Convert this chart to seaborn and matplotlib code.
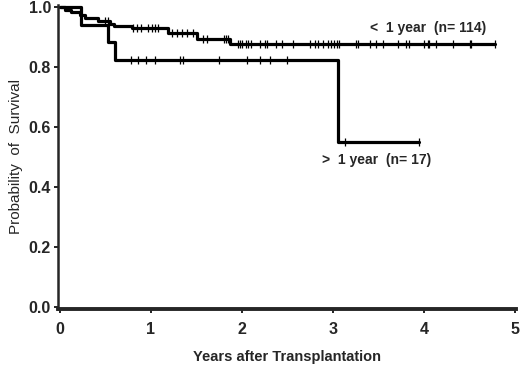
import numpy as np
import pandas as pd
import seaborn as sns
import matplotlib.pyplot as plt

# Kaplan-Meier steps (years, survival)
early_times = [0, 0.06, 0.12, 0.22, 0.28, 0.42, 0.55, 0.60, 0.79, 1.19, 1.51, 1.87]
early_surv = [1.0, 0.991, 0.982, 0.974, 0.963, 0.952, 0.945, 0.938, 0.929, 0.914, 0.893, 0.877]
early_end = 4.78
early_censor = [0.50, 0.53, 0.80, 0.85, 0.89, 0.97, 1.01, 1.05, 1.08, 1.23, 1.29,
                1.34, 1.40, 1.46, 1.57, 1.62, 1.80, 1.82, 1.85, 1.96, 1.98, 2.00,
                2.04, 2.07, 2.10, 2.20, 2.25, 2.27, 2.37, 2.44, 2.56, 2.75, 2.80,
                2.84, 2.89, 2.94, 2.98, 3.01, 3.04, 3.07, 3.25, 3.27, 3.41, 3.47,
                3.55, 3.71, 3.80, 3.84, 4.00, 4.04, 4.06, 4.13, 4.32, 4.50, 4.52,
                4.78]

late_times = [0, 0.23, 0.53, 0.61, 3.05]
late_surv = [1.0, 0.941, 0.882, 0.823, 0.549]
late_end = 3.95
late_censor = [0.78, 0.86, 0.95, 1.05, 1.32, 1.35, 1.75, 2.06, 2.20, 2.31, 2.50,
               3.13, 3.95]

label_early = '<  1 year  (n= 114)'
label_late = '>  1 year  (n= 17)'


def step_frame(times, surv, end):
    return pd.DataFrame({'t': list(times) + [end], 's': list(surv) + [surv[-1]]})


def censor_frame(times, surv, cens):
    idx = np.searchsorted(times, cens, side='right') - 1
    return pd.DataFrame({'t': cens, 's': np.array(surv)[idx]})


sns.set_style('ticks')
plt.rcParams['font.family'] = ['Liberation Sans', 'DejaVu Sans']

fig = plt.figure(figsize=(5.2, 3.7), dpi=100)
ax = fig.add_axes([58 / 520, 1 - 309 / 370, 458 / 520, 304 / 370])

for times, surv, end, cens in [(early_times, early_surv, early_end, early_censor),
                               (late_times, late_surv, late_end, late_censor)]:
    sns.lineplot(data=step_frame(times, surv, end), x='t', y='s', ax=ax,
                 estimator=None, sort=False, drawstyle='steps-post',
                 color='black', linewidth=2.3)
    sns.scatterplot(data=censor_frame(times, surv, cens), x='t', y='s', ax=ax,
                    marker='|', s=36, linewidth=0.9, color='black', zorder=3)

ax.text(3.41, 0.93, label_early, fontsize=10, fontweight='bold', va='center')
ax.text(2.88, 0.49, label_late, fontsize=10, fontweight='bold', va='center')

ax.set_xlim(-0.02, 5.01)
ax.set_ylim(-0.007, 1.007)
ax.set_xticks([0, 1, 2, 3, 4, 5])
ax.set_yticks([0.0, 0.2, 0.4, 0.6, 0.8, 1.0])
ax.set_yticklabels(['0.0', '0.2', '0.4', '0.6', '0.8', '1.0'])
ax.set_xlabel('Years after Transplantation', fontsize=10.5, fontweight='bold',
              labelpad=10)
ax.set_ylabel('Probability  of  Survival', fontsize=11, labelpad=4)
ax.tick_params(axis='both', labelsize=11.5, width=1.2, length=3, color='black')
ax.tick_params(axis='x', pad=6)
ax.tick_params(axis='y', pad=2)
for lab in ax.get_xticklabels() + ax.get_yticklabels():
    lab.set_fontweight('bold')
ax.spines['left'].set_linewidth(1.8)
ax.spines['bottom'].set_linewidth(2.8)
sns.despine(ax=ax)

fig.savefig('out.png', dpi=100)
